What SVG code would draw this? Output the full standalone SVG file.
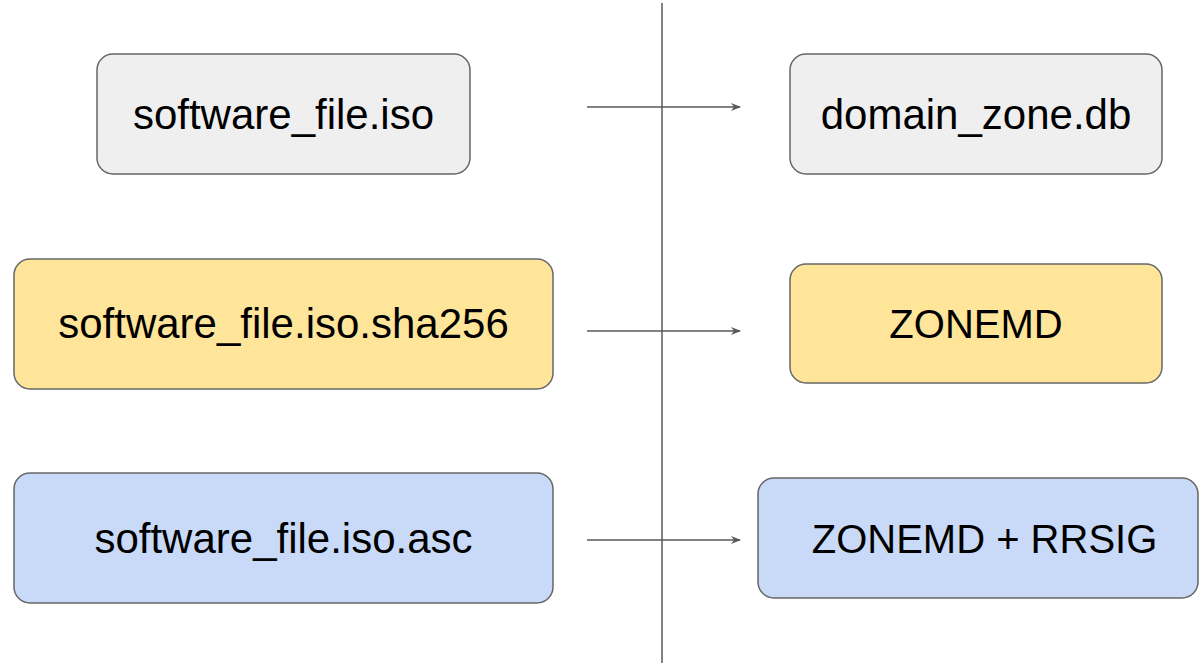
<svg xmlns="http://www.w3.org/2000/svg" width="1200" height="663" viewBox="0 0 1200 663">
<style>
.box{stroke:#666666;stroke-width:1.5}
.gray{fill:#efefef}
.yellow{fill:#ffe599}
.blue{fill:#c9daf8}
.lbl{font-family:"Liberation Sans",Arial,sans-serif;font-size:42px;fill:#000;text-anchor:middle}
.caps{font-size:40px}
.conn{stroke:#595959;stroke-width:1.5;fill:none}
</style>
<defs>
<marker id="arr" viewBox="0 0 10 10" refX="9" refY="5" markerWidth="11" markerHeight="10" markerUnits="userSpaceOnUse" orient="auto">
<path d="M0,1 L10,5 L0,9 L3,5 Z" fill="#595959"/>
</marker>
</defs>
<rect width="1200" height="663" fill="#ffffff"/>
<g id="connectors">
<line class="conn" x1="662" y1="3" x2="662" y2="663" stroke-width="2"/>
<line class="conn" x1="587" y1="107" x2="740" y2="107" marker-end="url(#arr)"/>
<line class="conn" x1="587" y1="331" x2="740" y2="331" marker-end="url(#arr)"/>
<line class="conn" x1="587" y1="540" x2="740" y2="540" marker-end="url(#arr)"/>
</g>
<g id="n1"><rect class="box gray" x="97" y="54" width="373" height="120" rx="16"/><text class="lbl" x="283.5" y="129">software_file.iso</text></g>
<g id="n2"><rect class="box yellow" x="14" y="259" width="539" height="130" rx="16"/><text class="lbl" x="283.5" y="338">software_file.iso.sha256</text></g>
<g id="n3"><rect class="box blue" x="14" y="473" width="539" height="130" rx="16"/><text class="lbl" x="283.5" y="553">software_file.iso.asc</text></g>
<g id="n4"><rect class="box gray" x="790" y="54" width="372" height="120" rx="16"/><text class="lbl" x="976" y="129">domain_zone.db</text></g>
<g id="n5"><rect class="box yellow" x="790" y="264" width="372" height="119" rx="16"/><text class="lbl caps" x="976" y="338">ZONEMD</text></g>
<g id="n6"><rect class="box blue" x="758" y="478" width="440" height="120" rx="16"/><text class="lbl caps" x="984.5" y="553">ZONEMD + RRSIG</text></g>
</svg>
